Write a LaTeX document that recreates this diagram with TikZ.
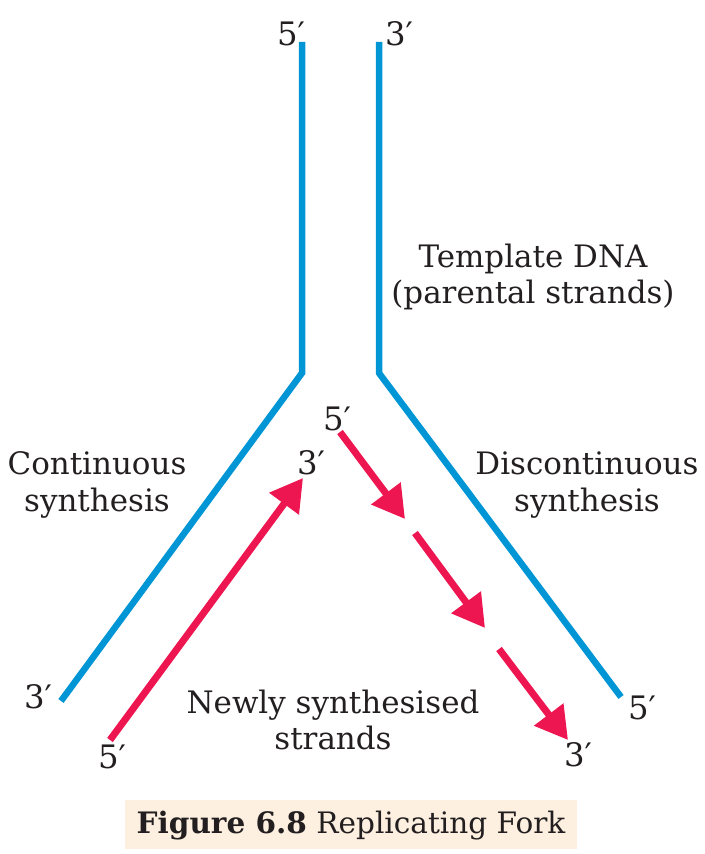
\documentclass[tikz,border=0pt]{standalone}
\usepackage{fontspec}
\setmainfont{DejaVu Serif}
\usetikzlibrary{arrows.meta, positioning, calc}
\definecolor{strandblue}{HTML}{0096D6}
\definecolor{newred}{HTML}{EE1651}
\definecolor{capfill}{HTML}{FDF0E0}
\definecolor{inkblack}{HTML}{231F20}

\begin{document}
\begin{tikzpicture}[x=0.025cm, y=-0.025cm,
  template/.style={strandblue, line width=6.5pt*0.711, line join=miter},
  newstrand/.style={newred, line width=7pt*0.711, -{Triangle[length=0.8cm, width=0.88cm]}},
  endlbl/.style={text=inkblack, font=\fontsize{23}{26}\selectfont, inner sep=0pt},
  lbl/.style={text=inkblack, font=\fontsize{22}{25.8}\selectfont, align=center, inner sep=0pt}]

% Canvas
\useasboundingbox (0,0) rectangle (704,854);

% Template strands (parental)
\coordinate (ltop) at (302,42);
\coordinate (lbend) at (302,373);
\coordinate (lend) at (61,701);
\coordinate (rtop) at (379,42);
\coordinate (rbend) at (379,373);
\coordinate (rend) at (621,697);
\draw[template] (ltop) -- (lbend) -- (lend);
\draw[template] (rtop) -- (rbend) -- (rend);

% Leading strand (continuous)
\coordinate (lead0) at (110,740);
\coordinate (lead1) at (303,478);
\draw[newstrand] (lead0) -- (lead1);

% Lagging strand (discontinuous pieces)
\coordinate (lag0) at (340,432);
\coordinate (lag1) at (405,519);
\coordinate (lag2) at (415,533);
\coordinate (lag3) at (485,628);
\coordinate (lag4) at (499,649);
\coordinate (lag5) at (568,740);
\draw[newstrand] (lag0) -- (lag1);
\draw[newstrand] (lag2) -- (lag3);
\draw[newstrand] (lag4) -- (lag5);

% End labels
\node[endlbl] (t5) at (291,34) {5′};
\node[endlbl] (t3) at (399,34) {3′};
\node[endlbl] (b3l) at (38,697) {3′};
\node[endlbl] (b5r) at (642,708) {5′};
\node[endlbl] (lead5) at (112,757) {5′};
\node[endlbl] (lead3) at (311,463) {3′};
\node[endlbl] (lag5l) at (337,419) {5′};
\node[endlbl] (lag3l) at (578,755) {3′};

% Descriptions
\node[lbl] (tmpl) at (533,277) {Template DNA\\(parental strands)};
\node[lbl] (cont) at (97,485) {Continuous\\synthesis};
\node[lbl] (disc) at (587,485) {Discontinuous\\synthesis};
\node[lbl] (newly) at (333,720) {Newly synthesised\\strands};

% Caption
\fill[capfill] (125,800) rectangle (577,849);
\node[lbl, font=\fontsize{21}{24}\selectfont] (cap) at (351,826) {\textbf{Figure 6.8} Replicating Fork};

\end{tikzpicture}
\end{document}
